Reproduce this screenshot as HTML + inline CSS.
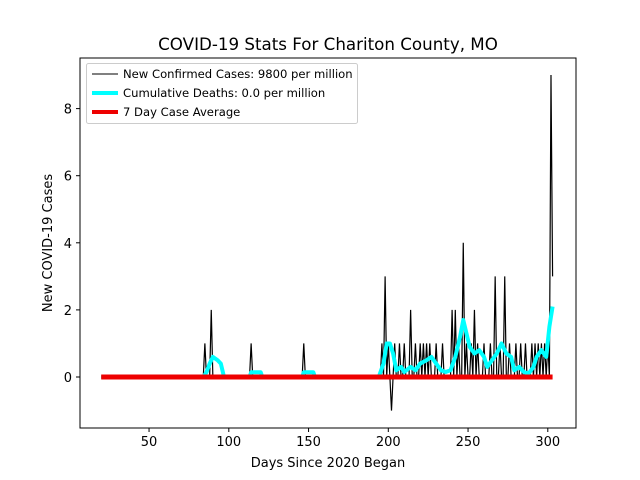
<!DOCTYPE html>
<html><head><meta charset="utf-8"><style>
body{margin:0;background:#fff;}
svg{display:block;font-family:"DejaVu Sans","Liberation Sans",sans-serif;}
</style></head><body>
<svg id="chart" width="640" height="480">
<rect width="640" height="480" fill="#fff"/>
<text x="328" y="50" font-size="16.7" text-anchor="middle">COVID-19 Stats For Chariton County, MO</text>
<g id="plot"></g>
<rect x="80" y="58" width="496" height="370" fill="none" stroke="#000" stroke-width="1"/>
<g id="ticks"></g>
<text x="328" y="467" font-size="13" text-anchor="middle">Days Since 2020 Began</text>
<text transform="translate(52,243) rotate(-90)" font-size="13" text-anchor="middle">New COVID-19 Cases</text>
<g>
<rect x="86.5" y="63.5" width="271" height="60" rx="2" fill="#fff" stroke="#ccc"/>
<g><line x1="92" y1="74" x2="118" y2="74" stroke="#000" stroke-width="1"/><text x="123" y="78" font-size="11.6">New Confirmed Cases: 9800 per million</text></g>
<g><line x1="92" y1="93" x2="118" y2="93" stroke="#0ff" stroke-width="4"/><text x="123" y="97" font-size="11.6">Cumulative Deaths: 0.0 per million</text></g>
<g><line x1="92" y1="112" x2="118" y2="112" stroke="#e00" stroke-width="4"/><text x="123" y="116" font-size="11.6">7 Day Case Average</text></g>
</g>
</svg>
<script>
const startDay = 20, endDay = 303;
const caseDays = [85,89,114,147,196,198,200,202,204,207,210,214,217,220,222,224,226,230,234,240,242,244,247,249,252,254,256,260,264,267,270,273,276,280,283,286,290,292,294,296,298,300,302,303];
const caseValues = [1,2,1,1,1,3,1,-1,1,1,1,2,1,1,1,1,1,1,1,2,2,1,4,1,1,2,1,1,1,3,1,3,1,1,1,1,1,1,1,1,1,1,9,3];
const avgDays = [84,86,88,90,93,95,97,113,114,120,121,146,147,153,154,194,197,199,201,203,205,208,210,214,217,220,224,227,230,233,236,239,242,245,247,249,251,254,257,260,262,265,268,271,274,277,279,282,285,288,291,293,296,299,301,303];
const avgValues = [0,0.14,0.4,0.6,0.5,0.4,0,0,0.14,0.14,0,0,0.14,0.14,0,0,0.4,1.0,1.0,0.7,0.2,0.3,0.15,0.3,0.2,0.4,0.5,0.6,0.4,0.2,0.15,0.2,0.6,1.2,1.7,1.3,0.9,0.7,0.8,0.6,0.3,0.5,0.7,1.0,0.7,0.6,0.2,0.3,0.15,0.1,0.3,0.6,0.8,0.6,1.5,2.1];
const xTicks = [50,100,150,200,250,300];
const yTicks = [0,2,4,6,8];
const NS="http://www.w3.org/2000/svg";
const X = d => 69.3 + 1.595*d;
const Y = v => 377 - 33.55*v;
const plot = document.getElementById('plot'), ticks = document.getElementById('ticks');
function mk(tag, attrs, parent){const e=document.createElementNS(NS,tag);for(const k in attrs)e.setAttribute(k,attrs[k]);parent.appendChild(e);return e;}
const daily=[];
for(let d=startDay; d<=endDay; d++){const i=caseDays.indexOf(d);daily.push([d,i>=0?caseValues[i]:0]);}
const cl = mk('polyline',{points:daily.map(p=>X(p[0])+','+Y(p[1])).join(' '),fill:'none',stroke:'#000','stroke-width':1.2},plot);


const ap=[[startDay,0]];
avgDays.forEach((d,i)=>ap.push([d,avgValues[i]]));
const al = mk('polyline',{points:ap.map(p=>X(p[0])+','+Y(p[1])).join(' '),fill:'none',stroke:'#0ff','stroke-width':4,'stroke-linejoin':'round'},plot);


const rl = mk('line',{x1:X(startDay),y1:Y(0),x2:X(endDay),y2:Y(0),stroke:'#e00','stroke-width':5},plot);


xTicks.forEach(t=>{const g=mk('g',{},ticks);


mk('line',{x1:X(t),y1:428,x2:X(t),y2:432,stroke:'#000'},g);
const tx=mk('text',{x:X(t),y:446,'font-size':13,'text-anchor':'middle'},g);tx.textContent=t;});
yTicks.forEach(t=>{const g=mk('g',{},ticks);


mk('line',{x1:76,y1:Y(t),x2:80,y2:Y(t),stroke:'#000'},g);
const tx=mk('text',{x:72,y:Y(t)+5,'font-size':13,'text-anchor':'end'},g);tx.textContent=t;});
</script>
</body></html>
